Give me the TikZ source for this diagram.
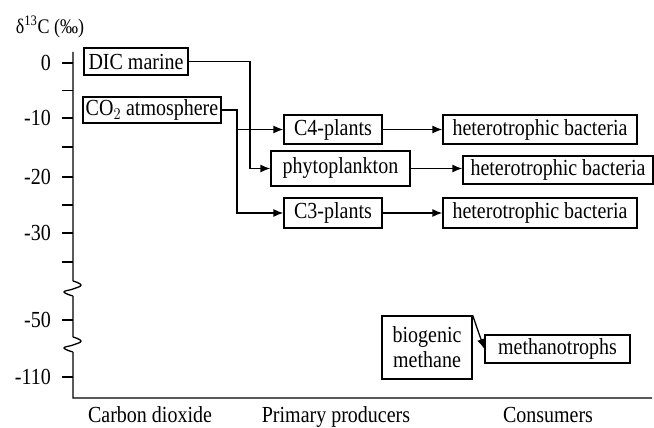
\documentclass[tikz,border=0pt]{standalone}
\usepackage{fontspec}
\usepackage{graphicx}
\setmainfont{Liberation Serif}
\usetikzlibrary{arrows.meta}
\newcommand{\vs}[1]{\scalebox{1}[1.15]{#1}}
\begin{document}
\begin{tikzpicture}[x=1pt,y=-1pt,
  lab/.style={font=\fontsize{20}{25}\selectfont, inner sep=0pt},
  bx/.style={draw, line width=1.3pt, font=\fontsize{20}{25}\selectfont, inner sep=0pt, align=center},
  arr/.style={line width=1.3pt, -{Latex[length=10pt,width=8pt]}},
  ln/.style={line width=1.3pt}]
\useasboundingbox (0,0) rectangle (654,428);
% axes
\draw[ln] (73,52) -- (73,281)
  plot[smooth, tension=0.8] coordinates {(73,281)(81,285)(73,289)(64,292)(73,296)}
  (73,296) -- (73,337)
  plot[smooth, tension=0.8] coordinates {(73,337)(81,341)(73,345)(64,348)(73,352)}
  (73,352) -- (73,398) -- (652,398);
\foreach \y/\t in {63/0,118/-10,177/-20,233/-30,320/-50,377/-110}{
  \draw[ln] (62,\y) -- (73,\y);
  \node[lab, anchor=east] (t\t) at (51,\y) {\vs{\t}};
}
\foreach \y in {90.5,147,205,262}{ \draw[ln] (62,\y) -- (73,\y); }
\node[font=\fontsize{18}{20}\selectfont, inner sep=0pt] (title) at (50,27) {\vs{δ\textsuperscript{13}C (‰)}};
\node[lab, anchor=base] (xa) at (150,422) {\vs{Carbon dioxide}};
\node[lab, anchor=base] (xb) at (336,422) {\vs{Primary producers}};
\node[lab, anchor=base] (xc) at (548,422) {\vs{Consumers}};
% boxes
\node[bx, minimum width=104, minimum height=27] (dic) at (136,61.5) {\vs{DIC marine}};
\node[bx, minimum width=138, minimum height=26] (co2) at (152,110) {\vs{CO$_2$ atmosphere}};
\node[bx, minimum width=98, minimum height=29] (c4) at (333,129.5) {\vs{C4-plants}};
\node[bx, minimum width=194, minimum height=29] (h1) at (540,129.5) {\vs{heterotrophic bacteria}};
\node[bx, minimum width=139, minimum height=35] (phy) at (340.5,168.5) {\vs{phytoplankton}};
\node[bx, minimum width=190, minimum height=28] (h2) at (558,170) {\vs{heterotrophic bacteria}};
\node[bx, minimum width=98, minimum height=30] (c3) at (333,213) {\vs{C3-plants}};
\node[bx, minimum width=194, minimum height=30] (h3) at (540,213) {\vs{heterotrophic bacteria}};
\node[bx, minimum width=90, minimum height=63] (bio) at (427,347.5) {\vs{biogenic}\\\vs{methane}};
\node[bx, minimum width=145, minimum height=28] (meth) at (557.5,349) {\vs{methanotrophs}};
% connectors
\coordinate (dj) at (250,61.5);
\coordinate (cj) at (237,110);
\draw[arr] (dic.east) -- (dj) |- (phy.west);
\draw[arr] (co2.east) -- (cj) |- (c3.west);
\draw[arr] (cj |- c4.west) -- (c4.west);
\draw[arr] (c4.east) -- (h1.west);
\draw[arr] (phy.east) -- (phy.east -| h2.west);
\draw[arr] (c3.east) -- (h3.west);
\draw[arr] (bio.north east) -- (meth.west);
\end{tikzpicture}
\end{document}
